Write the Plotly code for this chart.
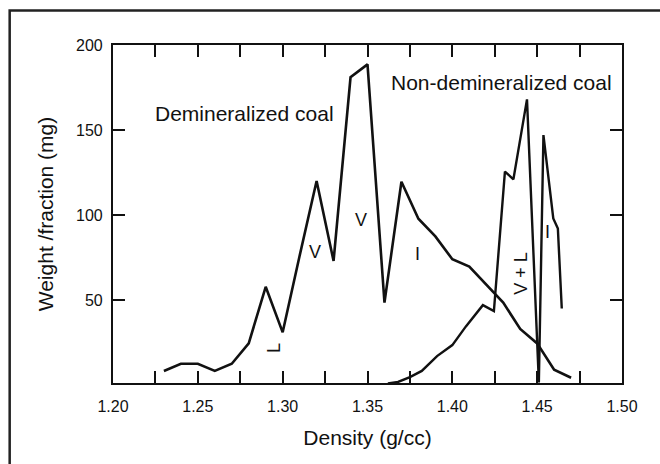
import plotly.graph_objects as go

# ---- data ----
density_demin = [1.23, 1.24, 1.25, 1.26, 1.27, 1.28, 1.29, 1.30, 1.31, 1.32, 1.33, 1.34, 1.35,
                 1.36, 1.37, 1.38, 1.39, 1.40, 1.41, 1.42, 1.43, 1.44, 1.45, 1.46, 1.47]
weight_demin = [8.3, 12.5, 12.5, 8.3, 12.5, 24.5, 57.8, 31, 76, 120, 73, 181, 188.6,
                48.5, 119.6, 97.8, 87.4, 74, 69.7, 59, 48.5, 33, 24.5, 9, 4.3]

density_nondemin = [1.362, 1.368, 1.375, 1.382, 1.391, 1.400, 1.408, 1.418, 1.4245, 1.431, 1.436,
                    1.444, 1.451, 1.4537, 1.4595, 1.4622, 1.4645]
weight_nondemin = [1.0, 1.8, 4.7, 8.3, 17, 23.5, 34.5, 47, 43.5, 125.5, 121,
                   168, 1.5, 147, 98, 92, 45]

x_tick_vals = [1.20, 1.225, 1.25, 1.275, 1.30, 1.325, 1.35, 1.375, 1.40, 1.425, 1.45, 1.475, 1.50]
x_tick_text = ["1.20", "", "1.25", "", "1.30", "", "1.35", "", "1.40", "", "1.45", "", "1.50"]
y_tick_vals = [50, 100, 150, 200]
y_tick_text = ["50", "100", "150", "200"]

labels = [
    dict(text="Demineralized coal", x=1.2236, y=160, xanchor="left", size=21, angle=0),
    dict(text="Non-demineralized coal", x=1.3626, y=178, xanchor="left", size=21, angle=0),
    dict(text="V", x=1.3189, y=78, xanchor="center", size=18, angle=0),
    dict(text="V", x=1.3461, y=97, xanchor="center", size=18, angle=0),
    dict(text="I", x=1.3797, y=77, xanchor="center", size=18, angle=0),
    dict(text="L", x=1.2945, y=22, xanchor="center", size=18, angle=-90),
    dict(text="V + L", x=1.4404, y=66, xanchor="center", size=18, angle=-90),
    dict(text="I", x=1.4563, y=90, xanchor="center", size=18, angle=0),
]

FONT = "Liberation Sans, Arial, Helvetica, sans-serif"
INK = "#111111"

fig = go.Figure()
fig.add_trace(go.Scatter(x=density_demin, y=weight_demin, mode="lines",
                         line=dict(color=INK, width=2.6), showlegend=False, hoverinfo="skip"))
fig.add_trace(go.Scatter(x=density_nondemin, y=weight_nondemin, mode="lines",
                         line=dict(color=INK, width=2.4), showlegend=False, hoverinfo="skip"))

for lb in labels:
    fig.add_annotation(text=lb["text"], x=lb["x"], y=lb["y"], xref="x", yref="y",
                       showarrow=False, xanchor=lb["xanchor"], yanchor="middle",
                       textangle=lb["angle"], font=dict(family=FONT, size=lb["size"], color=INK))

# outer frame of the scanned figure
fig.add_shape(type="rect", xref="paper", yref="paper",
              x0=-0.203, x1=1.09, y0=-0.26, y1=1.102,
              line=dict(color="#222222", width=2.5), fillcolor="rgba(0,0,0,0)", layer="below")

axis_common = dict(showgrid=False, zeroline=False, showline=True, linecolor=INK, linewidth=2.2,
                   mirror="allticks", ticks="inside", ticklen=12, tickwidth=2.2, tickcolor=INK,
                   tickfont=dict(family=FONT, size=16, color=INK))

fig.update_xaxes(range=[1.20, 1.50], tickmode="array", tickvals=x_tick_vals, ticktext=x_tick_text,
                 ticklabelstandoff=8,
                 title=dict(text="Density (g/cc)", font=dict(family=FONT, size=21, color=INK), standoff=16),
                 **axis_common)
fig.update_yaxes(range=[1.2, 200], tickmode="array", tickvals=y_tick_vals, ticktext=y_tick_text,
                 ticklabelstandoff=5,
                 title=dict(text="Weight /fraction (mg)", font=dict(family=FONT, size=21, color=INK), standoff=17),
                 **axis_common)

fig.update_layout(width=660, height=464, margin=dict(l=113, r=38, t=45, b=81),
                  paper_bgcolor="white", plot_bgcolor="white",
                  font=dict(family=FONT, color=INK))

fig.write_html("out.html")
